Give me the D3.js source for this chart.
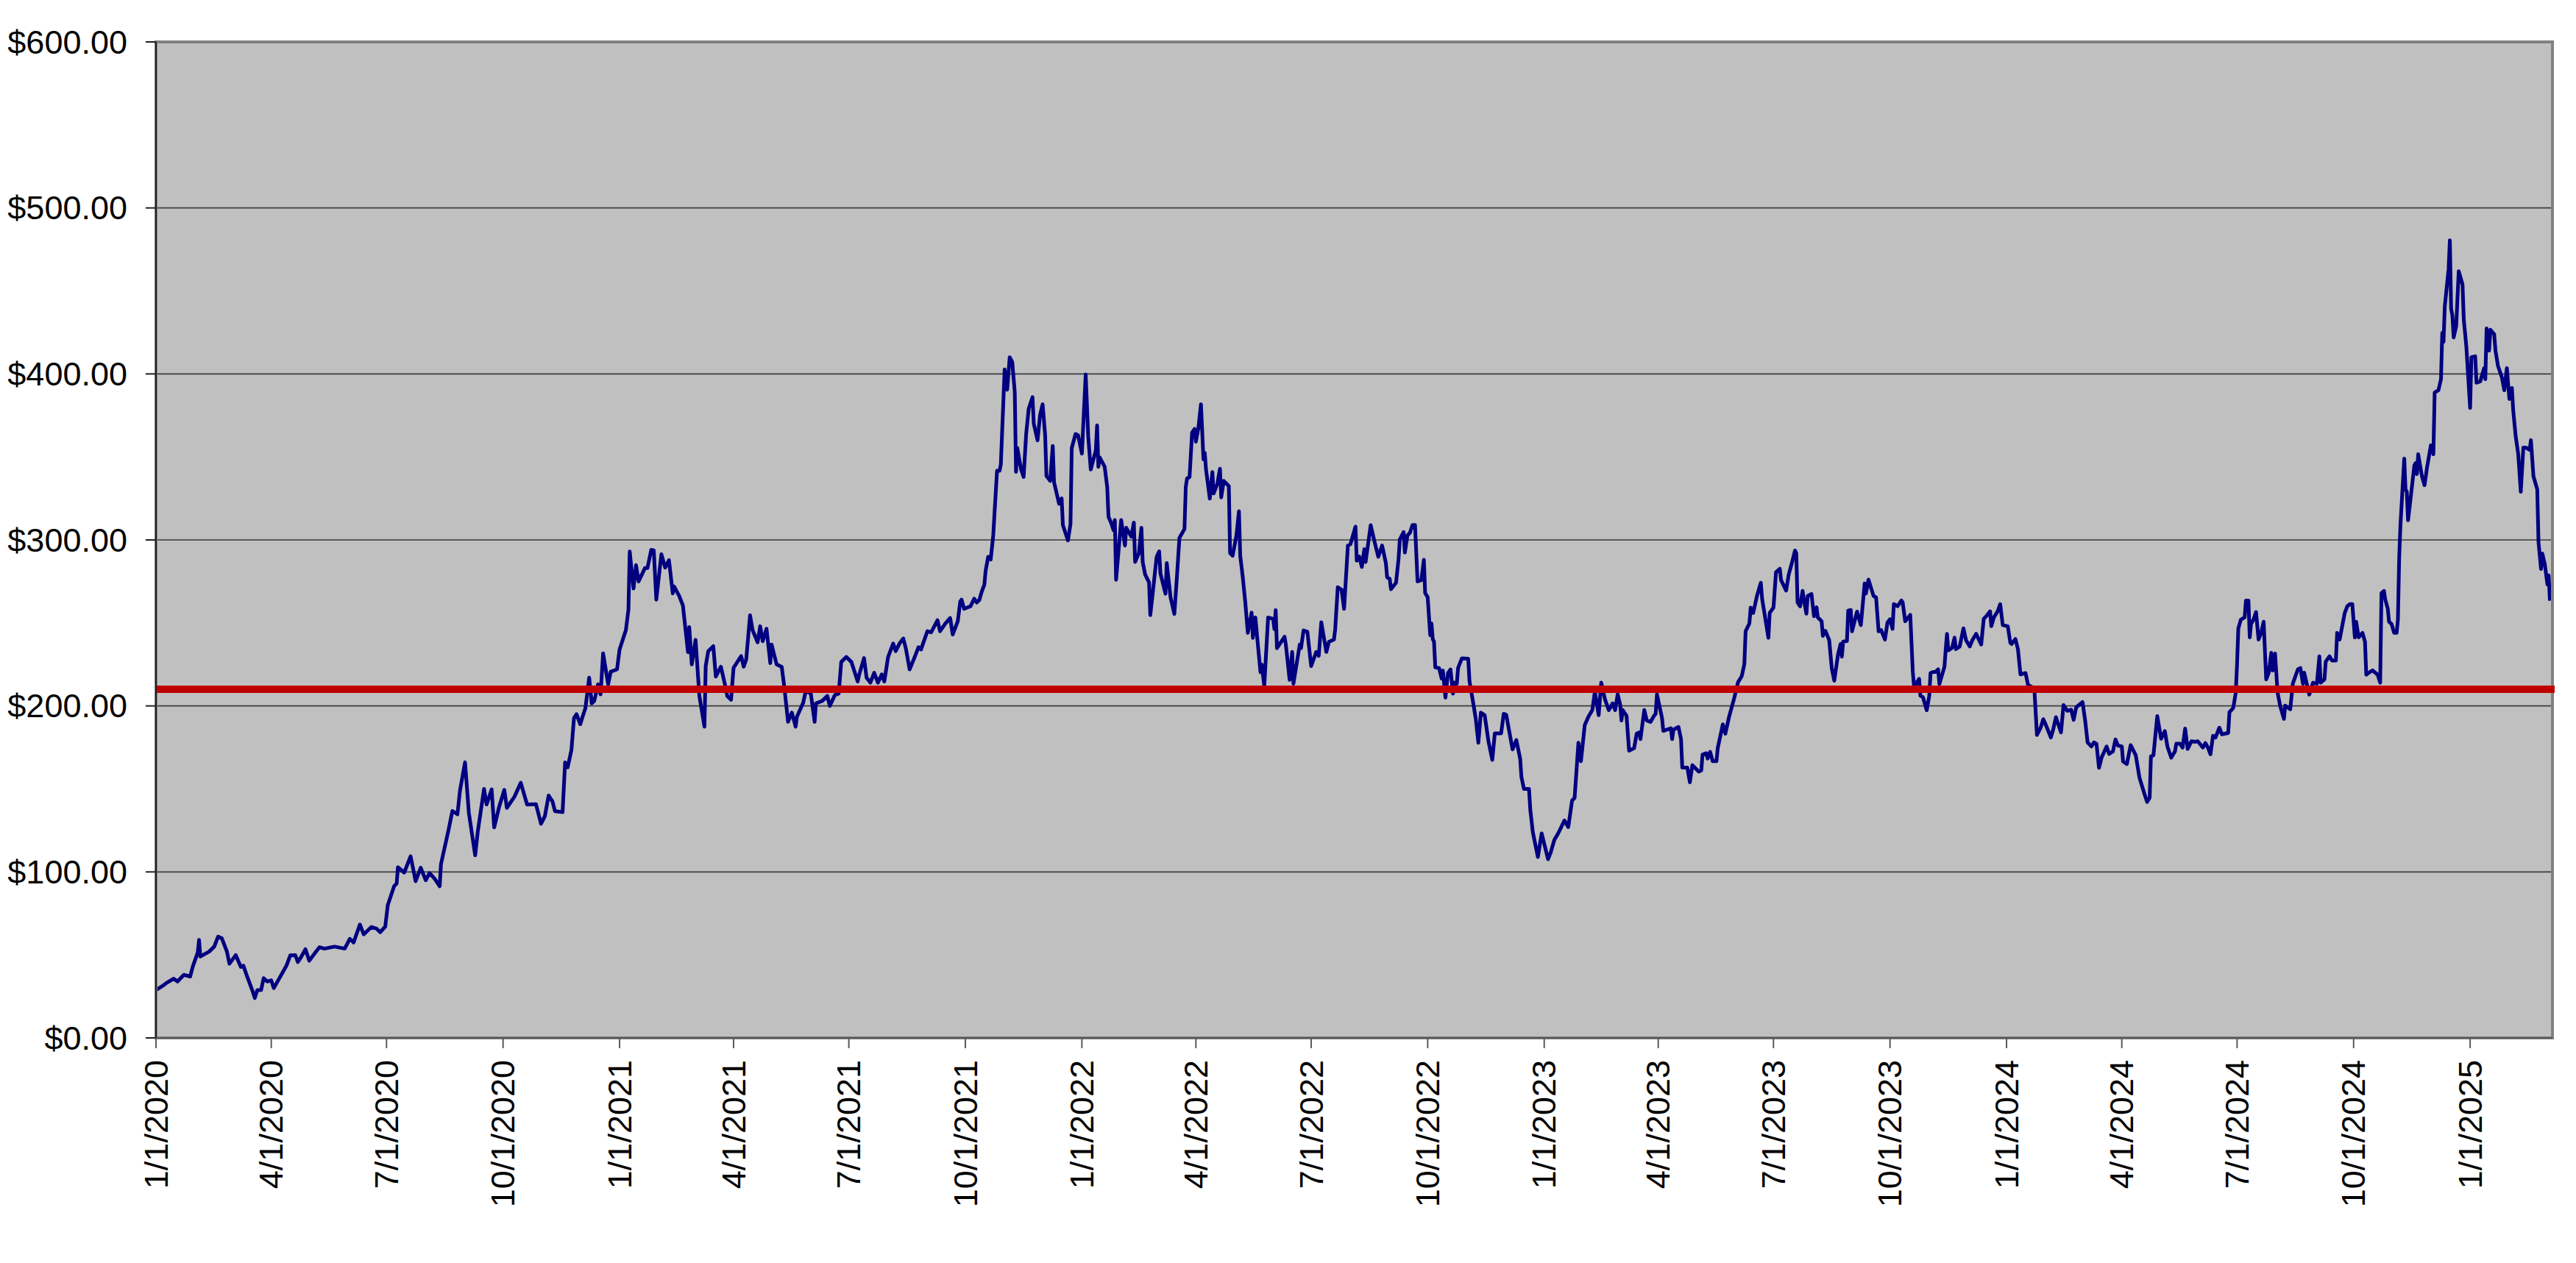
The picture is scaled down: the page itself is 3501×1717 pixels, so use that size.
<!DOCTYPE html>
<html>
<head>
<meta charset="utf-8">
<script src="https://cdn.jsdelivr.net/npm/d3@7"></script>
<style>
  html, body { margin: 0; padding: 0; background: #ffffff; }
  svg { display: block; }
</style>
</head>
<body>
<div id="chart"></div>
<script>
// price readings taken off the chart: [days after 1/1/2020, closing price]
const pricePoints = [
  [0,28.8],[6,31.7],[8,33],[14,35.7],[17,34],[22,38],[27,37],[29,42.8],[33,51.6],[34,59],[35,49],
  [42,52],[46,55],[49,61],[52,60],[56,52],[58,44.7],[63,49.9],[67,42.8],[69,43.5],[72,36.9],[76,28.8],
  [78,24],[80,28.8],[83,28.8],[85,36],[88,34],[91,34.7],[93,30],[97,35.4],[103,43.5],[106,49.7],
  [110,49.9],[112,45.7],[114,48],[118,53.4],[121,46.5],[126,51.6],[129,54.6],[133,53.8],[141,55],
  [149,53.8],[153,59.7],[156,57.5],[161,68.3],[164,62.4],[170,66.8],[174,65.9],[177,63.7],[181,67],
  [183,80],[188,91.4],[190,93],[191,102.8],[196,99.6],[201,109.4],[205,94.4],[209,102.5],[213,95],
  [216,99.3],[220,95.9],[224,91.4],[225,104.7],[231,125.4],[234,136.7],[238,134.7],[240,149],[244,166],
  [247,135.7],[252,110],[254,124],[259,150],[261,140.6],[265,149.7],[267,126.8],[271,139.4],[275,149.4],
  [277,138.6],[283,145.3],[288,153.7],[293,140.6],[300,140.8],[304,129],[307,133.5],[310,146],
  [313,142.5],[315,136.6],[321,136],[323,166],[325,163],[328,173.5],[330,192.6],[332,195],[335,189],
  [337,194],[339,198.5],[342,217],[344,201.5],[346,203],[349,213],[351,207],[353,231.7],[357,213],
  [359,220.6],[364,222],[366,234],[371,245.7],[373,258],[374,293],[377,270.8],[379,284.8],[381,275],
  [386,283],[388,283],[391,294],[393,293.7],[395,264],[399,291.4],[402,283.3],[405,287.8],[408,267.8],
  [409,272],[413,266.4],[416,260.5],[420,232.4],[421,247.5],[423,225],[426,239.8],[429,206],[433,187.5],
  [434,224],[436,233],[440,236],[442,217.7],[446,223.6],[449,213.6],[451,206],[454,203.7],[456,223],
  [462,230],[464,223.6],[466,228],[469,254.6],[471,245.7],[475,238.3],[477,248],[479,239],[482,246.5],
  [485,225.8],[486,237],[490,225],[494,223.6],[496,211.8],[499,190.4],[502,196],[505,187.5],[506,193.4],
  [511,202],[513,209],[517,207.4],[520,190.4],[521,201.5],[526,203],[530,206],[532,200],[536,206.6],
  [539,207.4],[541,226.5],[545,229.5],[549,226.5],[554,214.7],[555,218.4],[559,228.8],[561,217],
  [564,214],[567,220],[570,214],[573,219],[575,214.7],[578,229.5],[582,237.6],[584,233],[587,237.6],
  [590,240.6],[592,234.7],[595,222],[599,229.5],[602,235.4],[604,234],[609,245],[612,244.3],[617,251.6],
  [619,245],[623,249.4],[627,253],[629,243],
  [633,251],[635,263],[636,264],[638,258.5],[643,260],[646,264.6],[648,262.3],[650,263.8],[652,269],
  [654,273],[655,281.4],[657,289.8],[659,288.2],[661,302.7],[664,341.7],[666,341.7],[667,345.5],
  [670,402.7],[672,390.5],[674,410],[676,407.3],[678,389],[679,341],[680,355.4],[683,342.4],[685,337.9],
  [687,363.8],[689,379],[692,386],[693,370],[696,360],[698,375.3],[700,381.7],[702,363],[703,338.6],
  [706,335.6],[708,356.6],[709,334.8],[713,321.8],[715,325],[716,308.9],[720,299.7],[722,309.6],
  [723,355.4],[726,363.8],[728,363],[731,352],[734,399.7],[736,362.3],[738,342.4],[742,354],[743,369],
  [744,344],[745,349.8],[749,344],[751,331.8],[752,314],[754,310.4],[756,305.8],[757,312],[758,276],
  [759,285],[762,312],[765,296.6],[766,307.3],[770,302],[772,310.4],[773,286.7],[776,292],[778,307.3],
  [779,286.7],[781,279],[784,274.5],[785,254.7],[787,268.4],[790,289.8],[792,293.1],[793,279.8],
  [797,267.6],[798,286],[801,265.3],[804,255.4],[806,277.5],[808,301.2],[812,306.6],[813,331.8],
  [814,337],[816,337.9],[818,364.6],[820,366.9],[821,359.2],[823,367.6],[825,381.7],[827,348.5],
  [828,352.4],[829,342.4],[832,324.9],[834,340.9],[835,328],[838,334],[840,342.9],[841,325.6],[843,335.6],
  [847,332.5],[848,292],[850,290.5],[853,302.7],[855,317.3],[856,290.5],[858,277.6],[860,262.3],[862,244],
  [865,256.2],[866,241],[868,253.3],[870,236.3],[872,220.3],[873,224.9],[875,212],[878,253.3],[882,252.4],
  [883,246.3],[884,257.7],[885,234.8],[891,241.7],[892,237],[895,215.7],[897,232.5],[898,213.4],[903,237],
  [904,234.8],[906,245.5],[909,244.7],[912,224],[916,232.5],[918,230.2],[920,250.4],[924,232.5],
  [926,238.6],[930,240],[931,246.3],[933,271.5],[936,270],[938,258.5],[941,296.6],[943,297.4],[947,308],
  [948,287.5],[950,290],[952,283.7],[954,294.4],[955,286.7],[959,308.9],[962,299],[965,289.8],[968,296.6],
  [969,293.2],[971,286],[972,277.4],[974,276.6],[975,270.3],[979,274.2],[981,288.5],[982,300.3],[985,304.7],
  [986,292.4],[988,302.7],[990,304.3],[992,309],[994,309],[996,275],[999,275.8],[1001,288],[1002,268],
  [1004,265.5],[1006,242.6],[1007,249.7],[1008,240.2],[1009,238.7],[1010,223.2],[1013,222.8],[1015,216.5],
  [1016,221.3],[1018,205],[1020,219.7],[1022,222],[1024,207.4],[1025,214],[1027,213.4],[1028,222.8],
  [1031,228.7],[1036,228.4],[1037,215],[1040,201.5],[1042,192],[1044,177.8],[1046,196],[1049,194.4],
  [1052,178.6],[1055,167.5],[1057,183.5],[1062,183.5],[1064,195.2],[1066,194.7],[1071,173.8],[1074,179.4],
  [1077,168.3],[1078,157.2],[1080,150],[1084,150],[1085,137.5],[1087,124],[1091,109],[1094,123.2],
  [1099,107.7],[1101,111.4],[1104,119.3],[1107,123.2],[1112,131],[1115,127],[1118,143],[1120,144.6],
  [1123,177.8],[1125,166.7],[1128,188.4],[1131,193.6],[1134,197.5],[1136,208.6],[1139,194.4],[1141,214],
  [1144,203.9],[1147,197.5],[1150,201.5],[1152,197.5],[1154,207],[1156,200.7],[1157,191.2],[1158,197.5],
  [1161,194],[1163,173],[1167,174.6],[1169,183.3],[1171,184],[1172,180],[1175,197.5],[1177,191.2],
  [1180,190.4],[1183,194.4],[1184,195.2],[1185,207],[1189,192.8],[1190,185],[1196,186.5],[1197,180],
  [1198,185.7],[1202,187.3],[1204,180],[1205,162.8],[1209,162.8],[1211,154],[1213,164.3],[1218,160.4],
  [1220,161.2],[1221,170.7],[1224,171.5],[1225,168.3],[1227,172.3],[1229,166.7],[1232,166.7],[1233,174.6],
  [1237,188.9],[1239,183.3],[1242,193.6],[1246,204.7],[1249,214.2],[1252,218],[1254,225.2],[1255,245],
  [1258,249.7],[1259,259.2],[1261,256],[1264,266.3],[1267,274.2],[1268,264.7],[1273,241],[1274,256],
  [1277,259.2],[1279,280.6],[1282,282.6],[1283,275.8],[1287,269.5],[1289,279],[1292,287.4],
  [1294,293.6],[1295,292],[1296,262.4],[1298,260],[1300,269.3],[1301,264],[1303,255.6],[1304,266.2],
  [1307,267.4],[1309,254],[1311,259.4],[1312,253.3],[1315,251],[1316,242.2],[1318,245.2],[1321,239.6],
  [1323,222.8],[1325,215.2],[1328,231.2],[1330,237.3],[1331,229.7],[1332,238.8],[1335,239.1],[1336,257.4],
  [1338,257.8],[1339,244.9],[1343,256.8],[1346,248.7],[1349,273.8],[1350,267.7],[1352,276.1],[1356,266.2],
  [1358,265.4],[1360,244.9],[1362,245.7],[1365,240],[1367,250.2],[1369,252.2],[1371,246.4],[1372,261.3],
  [1375,260.1],[1378,263.5],[1379,262.4],[1381,251],[1385,254.8],[1387,220.5],[1388,211.4],[1392,216.3],
  [1393,206.1],[1395,205.3],[1398,197.4],[1400,206.1],[1401,219.8],[1403,220.5],[1405,220.5],[1407,222],
  [1408,213.2],[1412,223.6],[1413,234.2],[1414,243.4],[1415,233.5],[1418,235],[1420,241.1],[1421,234.2],
  [1424,235.8],[1427,246.7],[1429,239.6],[1432,235.8],[1434,239.6],[1437,243.4],[1441,237],[1443,252.5],
  [1445,254],[1448,257],[1449,248],[1451,253.3],[1454,257],[1456,261.3],[1458,248.7],[1462,248],
  [1464,238],[1465,237.3],[1468,240.3],[1470,234.2],[1472,219],[1476,219.8],[1478,212.6],[1481,211.4],
  [1483,209.9],[1485,182.5],[1488,187],[1490,192],[1492,188.6],[1496,181],[1498,186.3],[1500,193.2],
  [1504,184],[1506,200.5],[1509,197],[1512,197.7],[1514,191.6],[1516,199.2],[1521,202.3],[1523,191.6],
  [1525,178],[1528,175.6],[1530,178],[1532,177.2],[1534,162.7],[1536,168.8],[1540,175.6],[1542,171.1],
  [1545,172.6],[1547,179.8],[1549,176.1],[1552,175.6],[1553,166.5],[1556,165],[1559,176.4],[1563,170.3],
  [1566,156.6],[1570,146.7],[1572,142.2],[1574,144.7],[1575,169.6],[1577,170.3],[1580,193.9],[1583,180.2],
  [1586,184.8],[1588,175.6],[1591,168.8],[1594,172.6],[1595,177.2],[1598,177.2],[1600,174.9],[1602,186.3],
  [1604,174.1],[1607,178.7],
  [1610,178.4],[1612,178.7],[1616,174.9],[1618,177.6],[1620,174.9],[1622,170.9],[1624,182],[1626,181],
  [1629,186.9],[1631,182.9],[1636,183.7],[1637,196.2],[1640,198.8],[1642,208],[1643,225.4],[1644,246.7],
  [1646,252],[1649,253.3],[1650,263.4],[1652,263.4],[1653,241.3],[1654,249.3],[1656,252],[1658,256.5],
  [1659,248],[1660,240],[1662,244],[1664,250.7],[1666,216],[1668,220],[1670,232],[1671,221.3],[1673,231.5],
  [1675,208],[1677,200.2],[1680,192.2],[1681,200.2],[1685,198],[1687,213.4],[1691,222],[1693,222.8],
  [1695,213.4],[1696,220],[1700,206.8],[1703,214],[1706,213.4],[1708,229.9],[1709,214],[1712,216],
  [1713,226.7],[1716,229.9],[1718,227.3],[1721,227.3],[1722,244],[1724,240],[1728,256],[1730,260],
  [1732,261.3],[1734,261.3],[1736,241.3],[1737,250.7],[1739,241.3],[1742,244],[1744,238.7],[1745,218.8],
  [1747,220],[1750,221.4],[1754,218.8],[1756,214],[1757,267.9],[1759,269.3],[1760,264],[1762,258.6],
  [1763,250.7],[1765,249.3],[1767,244],[1769,244],[1770,252],[1771,289.2],[1772,309.1],[1773,322.4],
  [1775,349],[1776,330.4],[1777,329],[1778,311.8],[1780,325],[1783,345],[1784,346.3],[1785,339.7],
  [1786,351.6],[1789,338.3],[1791,333],[1793,343.7],[1796,357],[1798,351.6],[1799,388.8],[1802,390.2],
  [1804,396.8],[1805,424.7],[1806,419.4],[1807,440.7],[1810,463.2],[1811,480.5],[1812,439.3],[1813,435.3],
  [1814,422],[1816,428.7],[1818,461.9],[1821,453.9],[1822,432.7],[1824,416.7],[1827,379.5],[1828,410],
  [1831,410.6],[1832,394.7],[1835,395.5],[1838,403.5],[1839,396.8],[1840,427.4],[1842,414.1],[1843,426.6],
  [1846,423.9],[1847,414.1],[1849,404.8],[1852,398.1],[1854,390.2],[1856,403.5],[1858,384.9],[1860,391.5],
  [1861,378.2],[1863,362.3],[1865,351.6],[1867,329],[1869,355.6],[1871,355.6],[1874,354.3],[1875,360.1],
  [1877,338.3],[1880,330.4],[1881,298.5],[1883,282.5],[1884,291.8],[1886,285.2],[1888,273.2],[1889,278.6],
  [1890,263.4]
];

const startDate = new Date(2020, 0, 1);
const lastDay = 1892;                       // axis ends a couple of days after the last close
const yTickValues = [0, 100, 200, 300, 400, 500, 600];
const referenceLevel = 210;                 // the red horizontal line

const width = 3501, height = 1717;
const plot = { left: 212, top: 57, right: 3469, bottom: 1411 };
const labelFont = "Arial, 'Liberation Sans', sans-serif";

const svg = d3.select("#chart").append("svg")
  .attr("width", width)
  .attr("height", height)
  .style("background", "#ffffff");

const x = d3.scaleTime()
  .domain([startDate, d3.timeDay.offset(startDate, lastDay)])
  .range([plot.left, plot.right]);

const y = d3.scaleLinear()
  .domain([0, 600])
  .range([plot.bottom, plot.top]);

const series = pricePoints.map(p => ({ date: d3.timeDay.offset(startDate, p[0]), price: p[1] }));

// grey plot area
svg.append("rect")
  .attr("x", plot.left)
  .attr("y", plot.top)
  .attr("width", plot.right - plot.left)
  .attr("height", plot.bottom - plot.top)
  .attr("fill", "#c0c0c0");

// horizontal gridlines
svg.append("g")
  .selectAll("line")
  .data(yTickValues.filter(v => v > 0 && v < 600))
  .enter()
  .append("line")
  .attr("x1", plot.left)
  .attr("x2", plot.right)
  .attr("y1", d => y(d))
  .attr("y2", d => y(d))
  .attr("stroke", "#3c3c3c")
  .attr("stroke-width", 1.6);

// price line
const line = d3.line()
  .x(d => x(d.date))
  .y(d => y(d.price));

svg.append("path")
  .datum(series)
  .attr("d", line)
  .attr("fill", "none")
  .attr("stroke", "#000080")
  .attr("stroke-width", 5)
  .attr("stroke-linejoin", "round");

// plot area border
svg.append("rect")
  .attr("x", plot.left)
  .attr("y", plot.top)
  .attr("width", plot.right - plot.left)
  .attr("height", plot.bottom - plot.top)
  .attr("fill", "none")
  .attr("stroke", "#808080")
  .attr("stroke-width", 4);

// reference level
svg.append("line")
  .attr("x1", plot.left)
  .attr("x2", plot.right + 3)
  .attr("y1", y(referenceLevel))
  .attr("y2", y(referenceLevel))
  .attr("stroke", "#c00000")
  .attr("stroke-width", 10);

// y axis
const yAxis = svg.append("g").attr("transform", `translate(${plot.left},0)`);
yAxis.append("line")
  .attr("x1", 0).attr("x2", 0)
  .attr("y1", plot.top).attr("y2", plot.bottom)
  .attr("stroke", "#202020")
  .attr("stroke-width", 2);
yAxis.selectAll(".ytick")
  .data(yTickValues)
  .enter()
  .append("line")
  .attr("x1", -14).attr("x2", 0)
  .attr("y1", d => y(d)).attr("y2", d => y(d))
  .attr("stroke", "#202020")
  .attr("stroke-width", 2);
yAxis.selectAll("text")
  .data(yTickValues)
  .enter()
  .append("text")
  .attr("x", -39)
  .attr("y", d => y(d))
  .attr("dy", "0.35em")
  .attr("text-anchor", "end")
  .style("font-family", labelFont)
  .style("font-size", "45px")
  .attr("fill", "#000")
  .text(d => "$" + d3.format(".2f")(d));

// x axis with quarterly ticks
const xTicks = x.ticks(d3.timeMonth.every(3));
const fmt = d3.timeFormat("%-m/%-d/%Y");
const xAxis = svg.append("g");
xAxis.append("line")
  .attr("x1", plot.left).attr("x2", plot.right)
  .attr("y1", plot.bottom).attr("y2", plot.bottom)
  .attr("stroke", "#5a5a5a")
  .attr("stroke-width", 2);
xAxis.selectAll(".xtick")
  .data(xTicks)
  .enter()
  .append("line")
  .attr("x1", d => x(d)).attr("x2", d => x(d))
  .attr("y1", plot.bottom).attr("y2", plot.bottom + 14)
  .attr("stroke", "#5a5a5a")
  .attr("stroke-width", 2);
xAxis.selectAll("text")
  .data(xTicks)
  .enter()
  .append("text")
  .attr("transform", d => `translate(${x(d)},${plot.bottom + 30}) rotate(-90)`)
  .attr("dy", "0.35em")
  .attr("text-anchor", "end")
  .style("font-family", labelFont)
  .style("font-size", "45px")
  .attr("fill", "#000")
  .text(d => fmt(d));
</script>
</body>
</html>
